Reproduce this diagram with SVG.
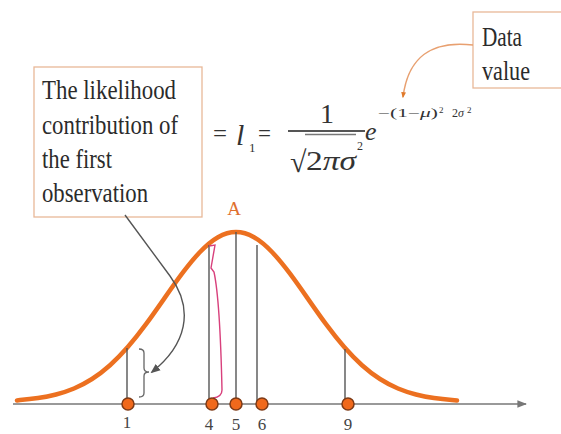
<svg xmlns="http://www.w3.org/2000/svg" width="561" height="434" viewBox="0 0 561 434">
<style>
.box{fill:#fff;stroke:#e9b898;stroke-width:1.3}
.bt{font-family:"Liberation Serif","Times New Roman",serif;font-size:27px;fill:#2b2b2b}
.f{font-family:"Liberation Serif","Times New Roman",serif;fill:#333}
.it{font-style:italic}
.vl{stroke:#555;stroke-width:1.4}
.pt{fill:#f0691c;stroke:#7e3a16;stroke-width:1.5}
.lab{font-family:"Liberation Serif","Times New Roman",serif;font-size:17px;fill:#444;text-anchor:middle}
</style>
<defs>
<marker id="ag" viewBox="0 0 10 10" refX="8" refY="5" markerWidth="7" markerHeight="7" orient="auto-start-reverse">
<path d="M0,1 L10,5 L0,9 z" fill="#555"/>
</marker>
<marker id="ao" viewBox="0 0 10 10" refX="8" refY="5" markerWidth="4" markerHeight="4" orient="auto">
<path d="M0,1 L10,5 L0,9 z" fill="#e07a2a"/>
</marker>
<marker id="ax" viewBox="0 0 10 10" refX="9" refY="5" markerWidth="6" markerHeight="6" orient="auto">
<path d="M0,1 L10,5 L0,9 z" fill="#777"/>
</marker>
</defs>
<rect width="561" height="434" fill="#fff"/>

<g id="box-likelihood">
<rect class="box" x="34" y="67" width="168" height="150"/>
<text class="bt" x="42" y="99" textLength="134" lengthAdjust="spacingAndGlyphs">The likelihood</text>
<text class="bt" x="42" y="134" textLength="136" lengthAdjust="spacingAndGlyphs">contribution of</text>
<text class="bt" x="42" y="168" textLength="70" lengthAdjust="spacingAndGlyphs">the first</text>
<text class="bt" x="42" y="202" textLength="106" lengthAdjust="spacingAndGlyphs">observation</text>
</g>

<g id="box-data">
<rect class="box" x="473" y="12" width="95" height="76"/>
<text class="bt" x="482" y="46" textLength="40" lengthAdjust="spacingAndGlyphs">Data</text>
<text class="bt" x="482" y="80" textLength="48" lengthAdjust="spacingAndGlyphs">value</text>
</g>

<g id="formula">
<text class="f" x="213" y="142" font-size="26" textLength="14" lengthAdjust="spacingAndGlyphs">=</text>
<text class="f it" x="236" y="145" font-size="30">l</text>
<text class="f" x="249" y="152" font-size="13">1</text>
<text class="f" x="258" y="142" font-size="26" textLength="13" lengthAdjust="spacingAndGlyphs">=</text>
<line x1="288" y1="131" x2="365" y2="131" stroke="#555" stroke-width="2"/>
<text class="f" x="327" y="123" font-size="28" text-anchor="middle">1</text>
<text class="f" x="290" y="172" font-size="30" font-family="DejaVu Serif">√</text>
<line x1="305" y1="134.5" x2="356" y2="134.5" stroke="#777" stroke-width="1.3"/>
<text class="f" x="306" y="170" font-size="28" textLength="50" lengthAdjust="spacingAndGlyphs">2<tspan class="it">πσ</tspan></text>
<text class="f" x="357" y="150" font-size="12">2</text>
<text class="f it" x="365" y="140" font-size="26">e</text>
<text class="f" x="378" y="117" font-size="12" fill="#555" textLength="60" lengthAdjust="spacingAndGlyphs">−(1−<tspan class="it">μ</tspan>)</text>
<text class="f" x="439" y="113" font-size="9" fill="#555">2</text>
<text class="f" x="452" y="117" font-size="12" fill="#555">2<tspan class="it">σ</tspan></text>
<text class="f" x="467" y="113" font-size="9" fill="#555">2</text>
</g>

<g id="axis">
<line x1="13" y1="404" x2="526" y2="404" stroke="#777" stroke-width="1.6" marker-end="url(#ax)"/>
</g>

<g id="curve">
<path fill="none" stroke="#ec7020" stroke-width="4.5" stroke-linecap="round" d="M17,400.5 L20,400.1 C26,399.62 32,399 38,398.1 C44,397.21 50,396.06 56,394.5 C62,392.94 68,391.03 74,388.5 C80,385.97 86,382.83 92,379 C98,375.17 104,370.57 110,365.2 C116,359.83 122,353.7 128,346.8 C134,339.9 140,332.3 146,324.2 C152,316.1 158,307.49 164,298.9 C170,290.31 176,281.72 182,273.7 C188,265.68 194,258.25 200,252 C206,245.75 212,240.63 218,237.2 C224,233.77 230,232 236,232 C242,232 248,233.77 254,237.2 C260,240.63 266,245.75 272,252 C278,258.25 284,265.68 290,273.7 C296,281.72 302,290.31 308,298.9 C314,307.49 320,316.1 326,324.2 C332,332.3 338,339.9 344,346.8 C350,353.7 356,359.83 362,365.2 C368,370.57 374,375.17 380,379 C386,382.83 392,385.97 398,388.5 C404,391.03 410,392.94 416,394.5 C422,396.06 428,397.21 434,398.1 C440,398.99 446,399.62 452,400.1 L457,400.6"/>
<text x="234" y="215" font-family="Liberation Serif, serif" font-size="19" fill="#e0702e" text-anchor="middle">A</text>
</g>

<g id="connectors">
<line class="vl" x1="127" y1="348" x2="127" y2="404"/>
<line class="vl" x1="209" y1="245" x2="209" y2="404"/>
<line class="vl" x1="236" y1="232" x2="236" y2="404"/>
<line class="vl" x1="257" y1="245" x2="257" y2="404"/>
<line class="vl" x1="345" y1="349" x2="345" y2="404"/>
<path d="M209,246 L215,245 L211,268 L214,272 Q220,300 222,390 Q222,397 213,398" fill="none" stroke="#d8407c" stroke-width="1.4"/>
<path d="M139,349 Q144,349 144,353 L144,368 Q144,372 149,372 Q144,372 144,376 L144,393 Q144,397 139,397" fill="none" stroke="#666" stroke-width="1.3"/>
<path d="M125,215 L170,276 C195,310 186,345 152,372" fill="none" stroke="#555" stroke-width="1.4" marker-end="url(#ag)"/>
<path d="M473,45 C430,40 408,58 403,97" fill="none" stroke="#e8a070" stroke-width="1.5" marker-end="url(#ao)"/>
</g>

<g id="points">
<g id="p1"><circle class="pt" cx="128" cy="404" r="6"/><text class="lab" x="127" y="428">1</text></g>
<g id="p4"><circle class="pt" cx="212" cy="404" r="6"/><text class="lab" x="209" y="430">4</text></g>
<g id="p5"><circle class="pt" cx="236" cy="404" r="6"/><text class="lab" x="236" y="430">5</text></g>
<g id="p6"><circle class="pt" cx="262" cy="404" r="6"/><text class="lab" x="262" y="430">6</text></g>
<g id="p9"><circle class="pt" cx="348" cy="404" r="6"/><text class="lab" x="348" y="430">9</text></g>
</g>
</svg>
